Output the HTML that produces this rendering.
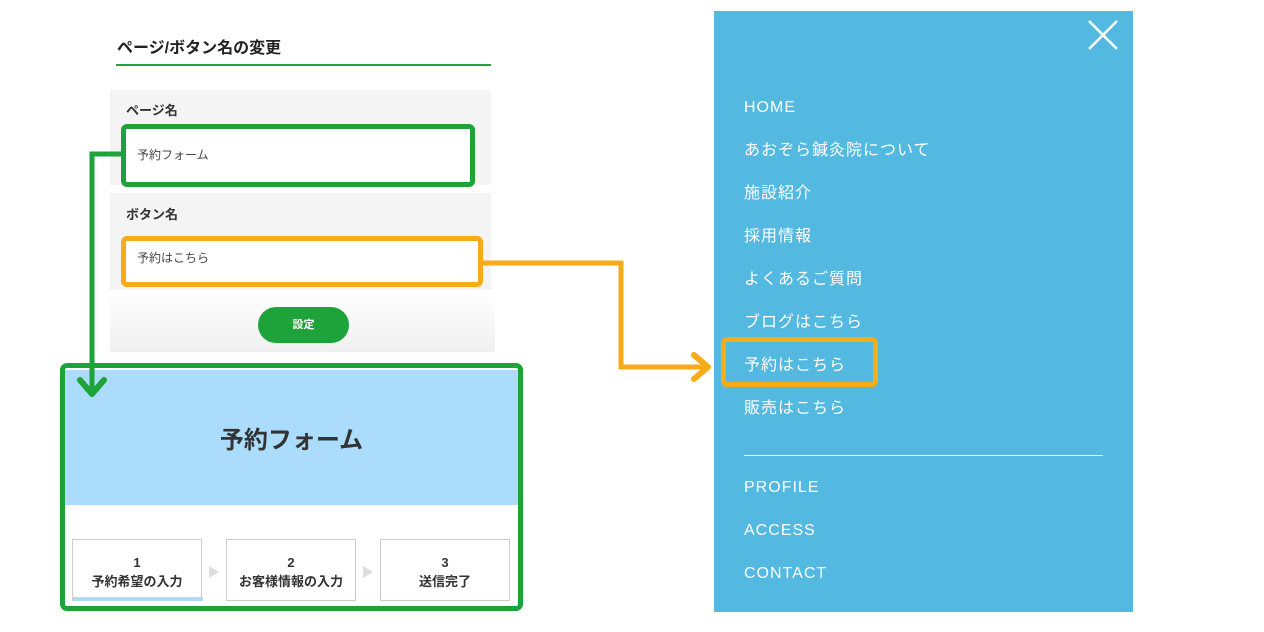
<!DOCTYPE html>
<html><head><meta charset="utf-8"><style>
body{margin:0;width:1264px;height:632px;background:#fff;position:relative;overflow:hidden;font-family:"Liberation Sans","Noto Sans CJK JP",sans-serif;}
.a{position:absolute;}
.m{position:absolute;left:744px;color:#fff;font-size:16px;letter-spacing:1px;line-height:20px;}
.step{position:absolute;top:539px;width:130px;height:62px;border:1px solid #ccc;background:#fff;text-align:center;font-size:13px;font-weight:bold;color:#333;line-height:19px;box-sizing:border-box;padding-top:13px;}
.tri{position:absolute;top:566px;width:0;height:0;border-left:10px solid #ddd;border-top:6px solid transparent;border-bottom:6px solid transparent;}
</style></head><body>
<div class="a" style="left:117px;top:34px;font-size:16px;font-weight:bold;color:#222;">ページ/ボタン名の変更</div>
<div class="a" style="left:116px;top:64px;width:375px;height:2px;background:#21a33a;"></div>
<div class="a" style="left:110px;top:90px;width:381px;height:95px;background:#f4f4f4;"></div>
<div class="a" style="left:110px;top:193px;width:381px;height:97px;background:#f4f4f4;"></div>
<div class="a" style="left:110px;top:290px;width:385px;height:62px;background:linear-gradient(#fff,#f0f0f0);"></div>
<div class="a" style="left:126px;top:100px;font-size:13px;font-weight:bold;color:#333;">ページ名</div>
<div class="a" style="left:126px;top:204px;font-size:13px;font-weight:bold;color:#333;">ボタン名</div>
<div class="a" style="left:121px;top:124px;width:354px;height:63px;border:5px solid #1ea23a;border-radius:6px;box-sizing:border-box;background:#fff;"></div>
<div class="a" style="left:137px;top:146px;font-size:12px;color:#444;">予約フォーム</div>
<div class="a" style="left:121px;top:236px;width:362px;height:51px;border:5px solid #f6ab17;border-radius:6px;box-sizing:border-box;background:#fff;"></div>
<div class="a" style="left:137px;top:249px;font-size:12px;color:#444;">予約はこちら</div>
<div class="a" style="left:258px;top:307px;width:91px;height:36px;border-radius:18px;background:#1ea23a;color:#fff;font-size:11px;font-weight:bold;text-align:center;line-height:36px;">設定</div>

<div class="a" style="left:60px;top:363px;width:463px;height:248px;border:5px solid #1ea23a;border-radius:7px;box-sizing:border-box;background:#fff;"></div>
<div class="a" style="left:65px;top:370px;width:453px;height:135px;background:#abdcfb;"></div>
<div class="a" style="left:65px;top:420px;width:453px;text-align:center;font-size:24px;font-weight:bold;color:#333;">予約フォーム</div>
<div class="step" style="left:72px;">1<br>予約希望の入力</div>
<div class="a" style="left:73px;top:597px;width:130px;height:4px;background:#b5d9ee;"></div>
<div class="step" style="left:226px;">2<br>お客様情報の入力</div>
<div class="step" style="left:380px;">3<br>送信完了</div>
<div class="tri" style="left:209px;"></div>
<div class="tri" style="left:363px;"></div>

<svg class="a" style="left:0;top:0" width="1264" height="632">
<polyline points="121,154 92,154 92,392" fill="none" stroke="#1ea23a" stroke-width="5"/>
<polyline points="80,380 92,394 104,380" fill="none" stroke="#1ea23a" stroke-width="6" stroke-linecap="round" stroke-linejoin="round"/>
<polyline points="483,263 621,263 621,367 706,367" fill="none" stroke="#f6ab17" stroke-width="5"/>
<polyline points="694,355 708,367 694,379" fill="none" stroke="#f6ab17" stroke-width="6" stroke-linecap="round" stroke-linejoin="round"/>
</svg>

<div class="a" style="left:714px;top:11px;width:419px;height:601px;background:#53b9e1;"></div>
<svg class="a" style="left:1086px;top:19px" width="34" height="32"><path d="M3 2L31 30M31 2L3 30" stroke="#fff" stroke-width="2.5"/></svg>
<div class="m" style="top:98px;">HOME</div>
<div class="m" style="top:141px;">あおぞら鍼灸院について</div>
<div class="m" style="top:184px;">施設紹介</div>
<div class="m" style="top:227px;">採用情報</div>
<div class="m" style="top:270px;">よくあるご質問</div>
<div class="m" style="top:313px;">ブログはこちら</div>
<div class="m" style="top:356px;">予約はこちら</div>
<div class="m" style="top:399px;">販売はこちら</div>
<div class="a" style="left:744px;top:455px;width:359px;height:1px;background:#fff;"></div>
<div class="m" style="top:478px;">PROFILE</div>
<div class="m" style="top:521px;">ACCESS</div>
<div class="m" style="top:564px;">CONTACT</div>
<div class="a" style="left:721px;top:337px;width:157px;height:50px;border:5px solid #f6ab17;border-radius:6px;box-sizing:border-box;"></div>
</body></html>
